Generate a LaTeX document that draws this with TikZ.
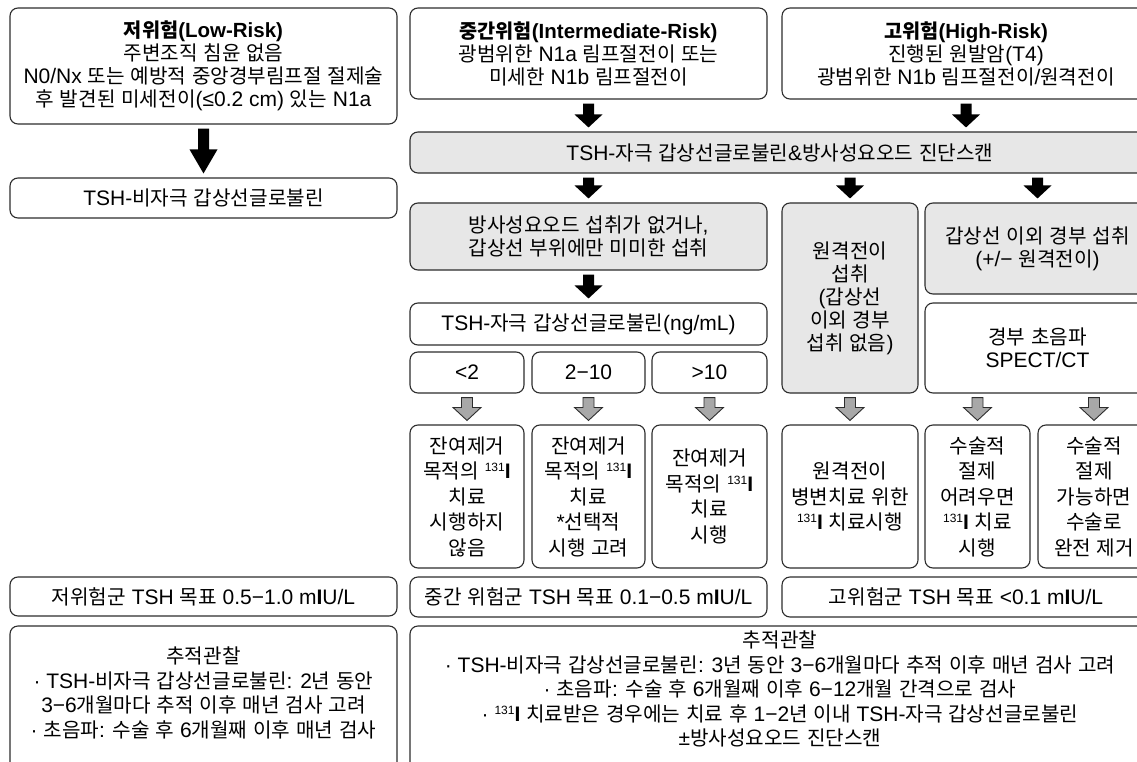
\documentclass[tikz,border=0pt]{standalone}
\usepackage{fontspec}
\setmainfont{Liberation Sans}
\newfontfamily\krfont[Scale=0.96]{Noto Sans CJK KR}
\XeTeXinterchartokenstate=1
\ifdefined\newXeTeXintercharclass
  \newXeTeXintercharclass\krclass
\else
  \chardef\krclass=7
\fi
\newcount\hgcnt
\hgcnt="AC00
\loop
  \XeTeXcharclass\hgcnt=\krclass
  \advance\hgcnt by 1
\ifnum\hgcnt<"D7A4 \repeat
\XeTeXinterchartoks 0 \krclass = {\krfont}
\XeTeXinterchartoks 4095 \krclass = {\krfont}
\XeTeXinterchartoks \krclass 0 = {\rmfamily}
\XeTeXinterchartoks \krclass 4095 = {\rmfamily}
\usetikzlibrary{calc}
\definecolor{boxgray}{RGB}{231,231,231}
\definecolor{arrgray}{RGB}{168,168,168}
\definecolor{linec}{RGB}{45,45,45}
\newcommand\supn[1]{\raisebox{7pt}{\fontsize{12}{12}\selectfont #1}}
\newcommand\ttl[1]{{\fontsize{20.5}{23}\selectfont\bfseries #1}}
\newcommand\barrow[5]{%
  \path[#1] let \p1=#2, \p2=#3 in
    (\x1-#4,\y1) -- (\x1+#4,\y1) -- (\x1+#4,\y2+#5) -- (\x1+14pt,\y2+#5)
    -- (\x1,\y2) -- (\x1-14pt,\y2+#5) -- (\x1-#4,\y2+#5) -- cycle;}
\tikzset{
  box/.style={draw=linec, line width=1.1pt, rounded corners=8pt, align=center,
    inner sep=0pt, font=\fontsize{21}{23}\selectfont},
  gbox/.style={box, fill=boxgray},
  tall/.style={font=\fontsize{21}{25.5}\selectfont},
  txt/.style={align=center, inner sep=0pt, font=\fontsize{21}{24.5}\selectfont},
  blkarr/.style={fill=black},
  gryarr/.style={fill=arrgray, draw=linec, line width=0.9pt, line join=miter},
}
\begin{document}
\begin{tikzpicture}[x=1pt,y=-1pt]
\useasboundingbox (0,0) rectangle (1137,762);
\fill[white] (0,0) rectangle (1137,762);
\clip (0,0) rectangle (1137,762);
% top row
\node[box, minimum width=387pt, minimum height=116pt] (low) at (203.5,66)
  {\ttl{저위험(Low-Risk)}\\주변조직 침윤 없음\\N0/Nx 또는 예방적 중앙경부림프절 절제술\\후 발견된 미세전이(≤0.2 cm) 있는 N1a};
\node[box, minimum width=387pt, minimum height=40pt] (lowtg) at (203.5,198)
  {TSH-비자극 갑상선글로불린};
\node[box, minimum width=357pt, minimum height=91pt] (mid) at (588.5,53.5)
  {\ttl{중간위험(Intermediate-Risk)}\\광범위한 N1a 림프절전이 또는\\미세한 N1b 림프절전이};
\node[box, minimum width=368pt, minimum height=91pt] (high) at (966,53.5)
  {\ttl{고위험(High-Risk)}\\진행된 원발암(T4)\\광범위한 N1b 림프절전이/원격전이};
\node[gbox, minimum width=740pt, minimum height=41pt] (scan) at (780,152.5)
  {TSH-자극 갑상선글로불린\&방사성요오드 진단스캔};
% intermediate column
\node[gbox, minimum width=357pt, minimum height=67pt] (noup) at (588.5,236.5)
  {방사성요오드 섭취가 없거나,\\갑상선 부위에만 미미한 섭취};
\node[box, minimum width=357pt, minimum height=42pt] (stim) at (588.5,324)
  {TSH-자극 갑상선글로불린(ng/mL)};
\node[box, minimum width=114pt, minimum height=41pt] (lt2) at (467,372.5) {<2};
\node[box, minimum width=113pt, minimum height=41pt] (r210) at (588.5,372.5) {2−10};
\node[box, minimum width=115pt, minimum height=41pt] (gt10) at (709.5,372.5) {>10};
\node[box, tall, minimum width=114pt, minimum height=143pt] (t1) at (467,496.5)
  {잔여제거\\목적의 \supn{131}\textbf{I}\\치료\\시행하지\\않음};
\node[box, tall, minimum width=113pt, minimum height=143pt] (t2) at (588.5,496.5)
  {잔여제거\\목적의 \supn{131}\textbf{I}\\치료\\*선택적\\시행 고려};
\node[box, tall, minimum width=115pt, minimum height=143pt] (t3) at (709.5,496.5)
  {잔여제거\\목적의 \supn{131}\textbf{I}\\치료\\시행};
\node[box, minimum width=357pt, minimum height=40pt] (midtg) at (588.5,597)
  {중간 위험군 TSH 목표 0.1−0.5 m\textbf{I}U/L};
% high column
\node[gbox, minimum width=136pt, minimum height=190pt] (dist) at (850,298)
  {원격전이\\섭취\\(갑상선\\이외 경부\\섭취 없음)};
\node[gbox, minimum width=225pt, minimum height=91pt] (neck) at (1037.5,248.5)
  {갑상선 이외 경부 섭취\\(+/− 원격전이)};
\node[box, minimum width=225pt, minimum height=90pt] (us) at (1037.5,348)
  {경부 초음파\\SPECT/CT};
\node[box, tall, minimum width=136pt, minimum height=143pt] (d1) at (850,496.5)
  {원격전이\\병변치료 위한\\\supn{131}\textbf{I} 치료시행};
\node[box, tall, minimum width=105pt, minimum height=143pt] (s1) at (977.5,496.5)
  {수술적\\절제\\어려우면\\\supn{131}\textbf{I} 치료\\시행};
\node[box, tall, minimum width=112pt, minimum height=143pt] (s2) at (1094,496.5)
  {수술적\\절제\\가능하면\\수술로\\완전 제거};
\node[box, minimum width=368pt, minimum height=40pt] (hightg) at (966,597)
  {고위험군 TSH 목표 <0.1 m\textbf{I}U/L};
% low targets & follow-up
\node[box, minimum width=387pt, minimum height=39pt] (lowtg2) at (203.5,596.5)
  {저위험군 TSH 목표 0.5−1.0 m\textbf{I}U/L};
\node[box, minimum width=387pt, minimum height=154pt] (lowfu) at (203.5,703) {};
\node[txt] (lowfutext) at (203.5,693)
  {추적관찰\\· TSH-비자극 갑상선글로불린: 2년 동안\\3−6개월마다 추적 이후 매년 검사 고려\\· 초음파: 수술 후 6개월째 이후 매년 검사};
\node[box, minimum width=740pt, minimum height=154pt] (midfu) at (780,703) {};
\node[txt] (midfutext) at (780,689)
  {추적관찰\\· TSH-비자극 갑상선글로불린: 3년 동안 3−6개월마다 추적 이후 매년 검사 고려\\· 초음파: 수술 후 6개월째 이후 6−12개월 간격으로 검사\\· \supn{131}\textbf{I} 치료받은 경우에는 치료 후 1−2년 이내 TSH-자극 갑상선글로불린\\±방사성요오드 진단스캔};
% black arrows
\barrow{blkarr}{($(low.south)+(0,4)$)}{($(lowtg.north)+(0,-4)$)}{5.5pt}{24pt}
\barrow{blkarr}{($(mid.south)+(0,4)$)}{($(mid.south |- scan.north)+(0,-4)$)}{5.5pt}{13pt}
\barrow{blkarr}{($(high.south)+(0,4)$)}{($(high.south |- scan.north)+(0,-4)$)}{5.5pt}{13pt}
\barrow{blkarr}{($(noup.north |- scan.south)+(0,4)$)}{($(noup.north)+(0,-4)$)}{5.5pt}{13pt}
\barrow{blkarr}{($(dist.north |- scan.south)+(0,4)$)}{($(dist.north)+(0,-4)$)}{5.5pt}{13pt}
\barrow{blkarr}{($(neck.north |- scan.south)+(0,4)$)}{($(neck.north)+(0,-4)$)}{5.5pt}{13pt}
\barrow{blkarr}{($(noup.south)+(0,4)$)}{($(stim.north)+(0,-4)$)}{5.5pt}{13pt}
% gray arrows
\barrow{gryarr}{($(lt2.south)+(0,4)$)}{($(t1.north)+(0,-4)$)}{5.5pt}{13pt}
\barrow{gryarr}{($(r210.south)+(0,4)$)}{($(t2.north)+(0,-4)$)}{5.5pt}{13pt}
\barrow{gryarr}{($(gt10.south)+(0,4)$)}{($(t3.north)+(0,-4)$)}{5.5pt}{13pt}
\barrow{gryarr}{($(dist.south)+(0,4)$)}{($(d1.north)+(0,-4)$)}{5.5pt}{13pt}
\barrow{gryarr}{($(s1.north |- us.south)+(0,4)$)}{($(s1.north)+(0,-4)$)}{5.5pt}{13pt}
\barrow{gryarr}{($(s2.north |- us.south)+(0,4)$)}{($(s2.north)+(0,-4)$)}{5.5pt}{13pt}
\end{tikzpicture}
\end{document}
